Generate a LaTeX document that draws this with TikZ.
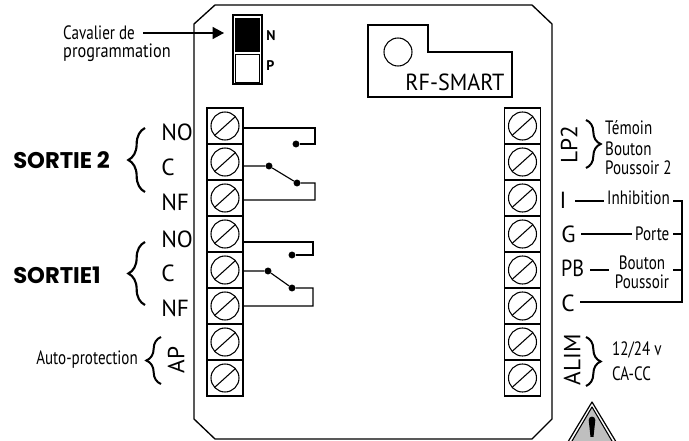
\documentclass[tikz,border=0pt]{standalone}
\usepackage{fontspec}
\setmainfont{PT Sans}
\newfontfamily\heavy{Poppins}
\usetikzlibrary{decorations.pathreplacing,arrows.meta,calc}
\tikzset{
  cell/.style={draw,line width=0.9pt,minimum width=36*0.75pt,minimum height=36*0.75pt,inner sep=0pt,outer sep=0pt},
  wire/.style={line width=0.85pt},
  contact/.style={circle,fill=black,inner sep=0pt,minimum size=5.2pt},
  lbl/.style={inner sep=0pt,font=\fontsize{17.5}{18}\selectfont},
  small/.style={inner sep=0pt,font=\fontsize{14.5}{15}\selectfont,xscale=0.78},
  big/.style={inner sep=0pt,font=\heavy\fontsize{17}{18}\selectfont\bfseries},
  brc/.style={line width=1.6pt,decorate,decoration={brace,amplitude=12.5pt,aspect=0.5}},
  brcs/.style={line width=1.5pt,decorate,decoration={brace,amplitude=11pt,aspect=0.5}},
}
\begin{document}
\begin{tikzpicture}[x=0.75pt,y=-0.75pt]
\useasboundingbox (0,0) rectangle (689,441);
\begin{scope}
\clip (0,0) rectangle (689,441);
% warning triangle
\draw[line width=0.9pt,fill=white,line join=round] (592,402)--(636,475)--(548,475)--cycle;
\fill[black!25,draw=black,line width=0.8pt,line join=round] (592,407)--(632,475)--(552,475)--cycle;
\fill (588.7,420) .. controls (588.7,415.5) and (595.3,415.5) .. (595.3,420) -- (593.5,437) -- (590.5,437) -- cycle;
\end{scope}
% board
\draw[line width=1pt] (215,5)--(532,5)--(552,24)--(552,419)--(532,439)--(215,439)--(194,419)--(194,24)--cycle;
% jumper
\node[draw,line width=0.9pt,minimum width=29*0.75pt,minimum height=69*0.75pt,inner sep=0pt] (jump) at (247.5,49.5) {};
\node[fill=black,draw=black,minimum width=24*0.75pt,minimum height=33*0.75pt,inner sep=0pt] (jn) at (247,34.5) {};
\node[draw,line width=0.7pt,minimum width=24*0.75pt,minimum height=28*0.75pt,inner sep=0pt] (jp) at (247,68) {};
\node[inner sep=0pt,font=\fontsize{10.5}{11}\selectfont\bfseries,anchor=west] (nn) at (266,36) {N};
\node[inner sep=0pt,font=\fontsize{10.5}{11}\selectfont\bfseries,anchor=west] (pp) at (266,66) {P};
% arrow label
\node[small,anchor=west] (cav) at (63,33) {Cavalier de};
\node[small,anchor=west,xscale=1.08] (prog) at (63,53) {programmation};
\coordinate (arrs) at (143,33);
\coordinate (arre) at (224,33);
\draw[line width=0.85pt,-{Triangle[length=8.5pt,width=9pt]}] (arrs) -- (arre);
% terminals
\foreach \i [evaluate=\i as \yy using 126+36*(\i-1)] in {1,...,8}{
  \node[cell] (l\i) at (225,\yy) {};
  \node[cell] (r\i) at (522.5,\yy) {};
  \foreach \s in {l,r}{
    \draw[line width=0.8pt] (\s\i) circle[radius=14];
    \draw[line width=0.8pt] ($(\s\i)+(-10.5,9.5)$) -- ($(\s\i)+(10.5,-9.5)$);
  }
}
% relay 1
\node[contact] (a1) at (296,144) {};
\node[contact] (b1) at (269,166) {};
\node[contact] (c1) at (297,183) {};
\draw[wire] (l1.east |- 0,128) -| (315,144) -- (a1);
\draw[wire] (l2.east |- b1) -- (b1) -- (c1) -- (315,183) |- (l3.east |- 0,200);
% relay 2
\node[contact] (a2) at (292,255) {};
\node[contact] (b2) at (268,271) {};
\node[contact] (c2) at (292,288) {};
\draw[wire] (l4.east |- 0,242) -| (313,255) -- (a2);
\draw[wire] (l5.east |- b2) -- (b2) -- (c2) -- (313,288) |- (l6.east |- 0,306);
% RF smart
\draw[line width=0.9pt] (368,25)--(428,25)--(428,52)--(512,52)--(512,97)--(368,97)--cycle;
\node[draw,circle,line width=0.8pt,minimum size=28*0.75pt,inner sep=0pt] (led) at (398,52) {};
\node[lbl,xscale=0.95] (rf) at (455,82) {RF-SMART};
% left labels
\node[lbl,anchor=west] (no2) at (161,132) {NO};
\node[lbl,anchor=west] (c2l) at (161,167) {C};
\node[lbl,anchor=west] (nf2) at (161,202) {NF};
\node[big,anchor=west] (s2) at (13,160) {SORTIE 2};
\draw[brc] (145,192) -- (145,128);
\node[lbl,anchor=west] (no1) at (161,239) {NO};
\node[lbl,anchor=west] (c1l) at (161,273) {C};
\node[lbl,anchor=west] (nf1) at (161,308) {NF};
\node[big,anchor=west] (s1) at (13,275) {SORTIE1};
\draw[brc] (145,305) -- (145,242);
\node[small,anchor=east] (auto) at (138,360) {Auto-protection};
\draw[brcs] (161,384) -- (161,337);
\node[lbl,rotate=90] (ap) at (176,360) {AP};
% right labels
\node[lbl,rotate=90] (lp) at (569,145) {LP2};
\draw[brcs] (586,120) -- (586,168);
\node[small,anchor=west] (tem) at (605,128) {Témoin};
\node[small,anchor=west] (bou2) at (605,149) {Bouton};
\node[small,anchor=west] (pou2) at (605,168) {Poussoir 2};
\node[lbl] (il) at (563,200) {I};
\node[small,anchor=west] (inh) at (607,198) {Inhibition};
\node[lbl,anchor=west] (gl) at (561,234) {G};
\node[small,anchor=west] (por) at (635,234) {Porte};
\node[lbl,anchor=west,xscale=0.86] (pb) at (561,268) {PB};
\node[small] (bou) at (642,263) {Bouton};
\node[small] (pou) at (642,282) {Poussoir};
\node[lbl,anchor=west] (cl) at (561,303) {C};
\coordinate (bus) at (682,201);
\draw[wire] (575,201) -- (604,201);
\draw[wire] (581,234) -- (632,234);
\draw[wire] (590,270) -- (609,270);
\draw[wire] (673,201) -- (bus) -- (682,302) -- (580,302);
\draw[wire] (673,234) -- (682,234);
\draw[wire] (673,270) -- (682,270);
\node[lbl,rotate=90] (alim) at (572,360) {ALIM};
\draw[brcs] (586,337) -- (586,386);
\node[small,anchor=west] (v) at (612,350) {12/24 v};
\node[small,anchor=west] (ca) at (612,374) {CA-CC};
\end{tikzpicture}
\end{document}
